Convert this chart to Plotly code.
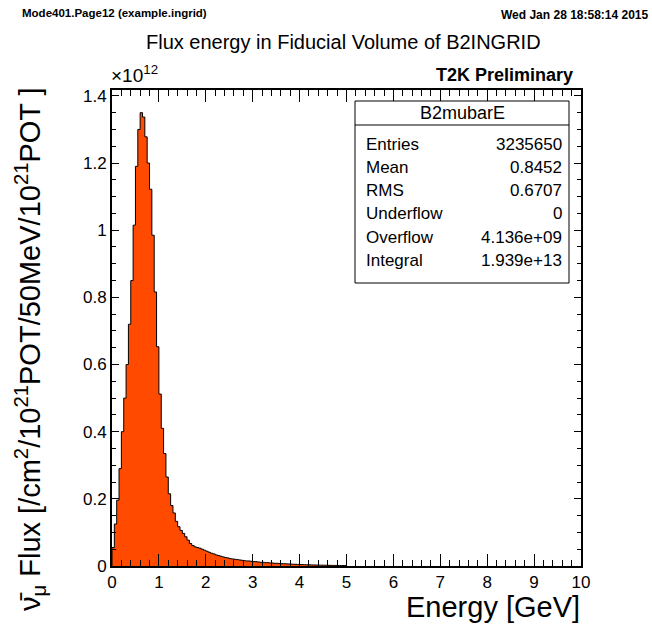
import plotly.graph_objects as go

# Binned flux (50 MeV bins starting at 0 GeV), in units of 1e12 /cm^2/1e21 POT/50 MeV
bin_width = 0.05
flux = [
    0.055, 0.125, 0.196, 0.290, 0.400, 0.500, 0.600, 0.720, 0.850, 1.015,
    1.190, 1.300, 1.350, 1.337, 1.278, 1.200, 1.122, 0.985, 0.816, 0.653,
    0.512, 0.410, 0.335, 0.265, 0.215, 0.180, 0.158, 0.133, 0.117, 0.106,
    0.097, 0.087, 0.077, 0.067, 0.061, 0.057, 0.055, 0.053, 0.050, 0.047,
    0.044, 0.041, 0.038, 0.036, 0.033, 0.031, 0.029, 0.027, 0.025, 0.024,
    0.022, 0.021, 0.020, 0.019, 0.018, 0.017, 0.016, 0.015, 0.015, 0.014,
    0.013, 0.013, 0.012, 0.011, 0.011, 0.010, 0.010, 0.009, 0.009, 0.008,
    0.008, 0.0075, 0.007, 0.0068, 0.0064, 0.006, 0.0056, 0.0053, 0.005, 0.0047,
    0.0044, 0.0041, 0.0039, 0.0036, 0.0034, 0.0032, 0.003, 0.0028, 0.0026, 0.0025,
    0.0023, 0.0022, 0.002, 0.0019, 0.0018, 0.0017, 0.0016, 0.0015, 0.0014, 0.0013,
]

stats_title = "B2mubarE"
stats_names = ["Entries", "Mean", "RMS", "Underflow", "Overflow", "Integral"]
stats_values = ["3235650", "0.8452", "0.6707", "0", "4.136e+09", "1.939e+13"]

x_ticks = list(range(0, 11))
y_ticks = [0, 0.2, 0.4, 0.6, 0.8, 1.0, 1.2, 1.4]

# step outline of the histogram
edges = [i * bin_width for i in range(len(flux) + 1)]
xs = [0.0] + edges
ys = [0.0] + flux + [flux[-1]]

W, H = 652, 632
L, R, T, B = 112, 581, 90, 566  # plot frame in pixels


def px(x):
    return (x - L) / (R - L)


def py(y):
    return (B - y) / (B - T)


FONT = "Liberation Sans"
fig = go.Figure()
fig.add_trace(go.Scatter(
    x=xs, y=ys, mode="lines", line=dict(shape="hv", color="black", width=1),
    fill="tozeroy", fillcolor="#ff4a00", hoverinfo="skip", showlegend=False,
))

axis_common = dict(
    showgrid=False, zeroline=False, showline=True, linecolor="black", linewidth=2,
    mirror="allticks", ticks="inside", tickcolor="black", tickwidth=1,
    layer="above traces",
    tickfont=dict(family=FONT, size=17, color="black"),
)
fig.update_xaxes(range=[0, 10], tickvals=x_ticks, ticklen=12,
                 minor=dict(ticks="inside", dtick=0.2, ticklen=6, tickcolor="black", tickwidth=1, showgrid=False),
                 **axis_common)
fig.update_yaxes(range=[0, 1.4175], tickvals=y_ticks, ticklen=7,
                 minor=dict(ticks="inside", dtick=0.05, ticklen=4, tickcolor="black", tickwidth=1, showgrid=False),
                 **axis_common)

ann = []


def text(x, y, s, size, xanchor="left", bold=False, yanchor="middle", angle=0):
    if bold:
        s = "<b>" + s + "</b>"
    ann.append(dict(x=px(x), y=py(y), xref="paper", yref="paper", text=s, showarrow=False,
                    xanchor=xanchor, yanchor=yanchor, textangle=angle,
                    font=dict(family=FONT, size=size, color="black")))


text(20, 13, "Mode401.Page12 (example.ingrid)", 11.5, bold=True)
text(651, 15, "Wed Jan 28 18:58:14 2015", 12, xanchor="right", bold=True)
text(343, 42, "Flux energy in Fiducial Volume of B2INGRID", 20, xanchor="center")
text(109, 74, "×10<sup>12</sup>", 19)
text(575, 75, "T2K Preliminary", 18, xanchor="right", bold=True)
text(582, 607, "Energy [GeV]", 29, xanchor="right")
text(30, 85, "ν̄<sub>μ</sub> Flux [/cm<sup>2</sup>/10<sup>21</sup>POT/50MeV/10<sup>21</sup>POT ]",
     29, xanchor="center", yanchor="top", angle=-90)

# statistics box
bx0, bx1, by0, by1, sep = 355, 569, 101, 283, 125
shapes = [
    dict(type="rect", xref="paper", yref="paper", x0=px(bx0), x1=px(bx1), y0=py(by1), y1=py(by0),
         line=dict(color="black", width=1), fillcolor="white", layer="above"),
    dict(type="line", xref="paper", yref="paper", x0=px(bx0), x1=px(bx1), y0=py(sep), y1=py(sep),
         line=dict(color="black", width=1), layer="above"),
]
text((bx0 + bx1) / 2, 113, stats_title, 18, xanchor="center")
for i, (n, v) in enumerate(zip(stats_names, stats_values)):
    yy = 144 + i * 23.3
    text(364, yy, n, 17)
    text(564, yy, v, 17, xanchor="right")

fig.update_layout(
    width=W, height=H, margin=dict(l=L, r=W - R, t=T, b=H - B),
    paper_bgcolor="white", plot_bgcolor="white",
    annotations=ann, shapes=shapes, showlegend=False,
)
fig.write_html("out.html")
